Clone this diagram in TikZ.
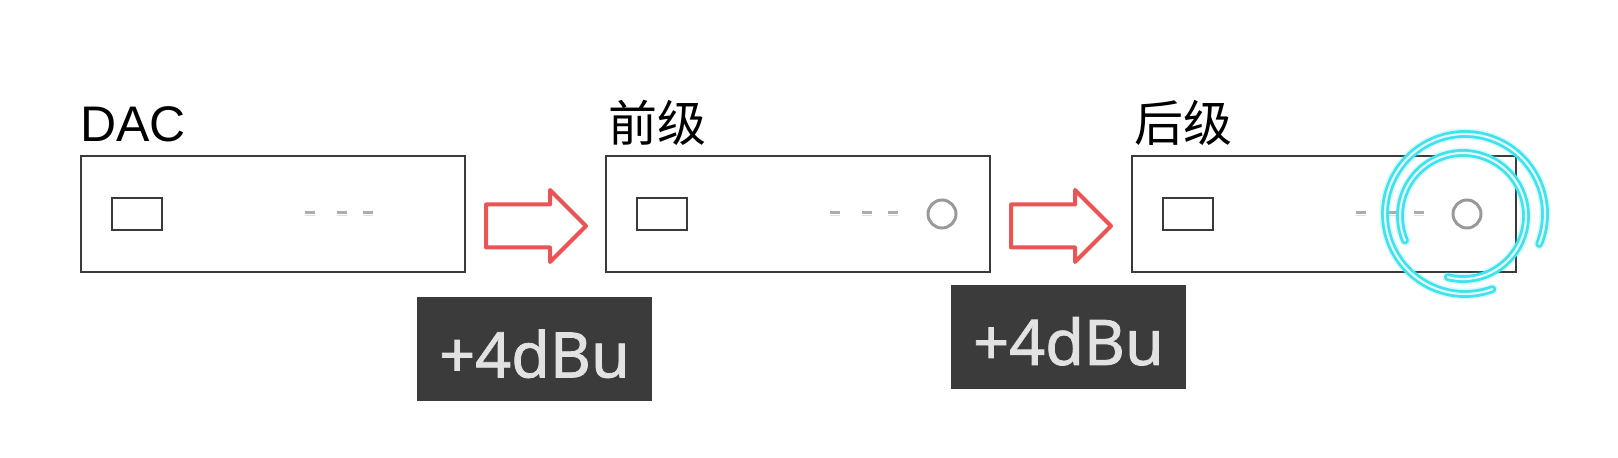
\documentclass[tikz,border=0pt]{standalone}
\usepackage{fontspec}
\setmainfont{Liberation Sans}
\newfontfamily\cjkfont{Noto Sans CJK SC}
\newfontfamily\tagfont[FakeBold=1.2]{Noto Sans}
\usetikzlibrary{positioning}
\definecolor{boxline}{HTML}{3A3A3A}
\definecolor{arrowred}{HTML}{EA5455}
\definecolor{tagbg}{HTML}{3B3B3B}
\definecolor{tagtext}{HTML}{E2E2E2}
\definecolor{glowcyan}{HTML}{3FE3EC}

\begin{document}
\begin{tikzpicture}[x=1pt, y=1pt,
    unit/.style={draw=boxline, line width=2pt, minimum width=384pt, minimum height=116pt, inner sep=0pt},
    title/.style={anchor=base west, inner sep=0pt, font=\fontsize{50}{60}\selectfont},
    display/.style={draw=boxline, line width=1.8pt, minimum width=50pt, minimum height=32pt, inner sep=0pt},
    knob/.style={circle, draw=gray!80, line width=3pt, minimum size=28pt, inner sep=0pt},
    tag/.style={fill=tagbg, text=tagtext, minimum width=235pt, minimum height=104pt, inner sep=0pt,
                text height=56pt, text depth=0pt, font=\tagfont\fontsize{63}{72}\selectfont},
    bigarrow/.style={draw=arrowred, line width=4pt, line join=round, fill=white},
    halo/.style={draw=glowcyan, opacity=0.2, line width=11pt, line cap=round},
    glow/.style={draw=glowcyan, line width=2.8pt, double=cyan!10, double distance=2.2pt, line cap=round}
                    ]
    \useasboundingbox (0,0) rectangle (1618,458);
    \node[unit] (dac) at (273,244) {};
    \node[unit, right=139pt of dac] (pre) {};
    \node[unit, right=140pt of pre] (post) {};
    \node[title] (dactitle) at ([yshift=13pt]dac.north west) {DAC};
    \node[title, font=\cjkfont\fontsize{49}{60}\selectfont] (pretitle) at ([xshift=3pt, yshift=13pt]pre.north west) {前级};
    \node[title, font=\cjkfont\fontsize{49}{60}\selectfont] (posttitle) at ([xshift=3pt, yshift=13pt]post.north west) {后级};
    \foreach \u in {dac,pre,post} {
        \node[display] (\u-display) at ([xshift=57pt]\u.west) {};
        \foreach \d in {230,262,288} {
            \fill[gray!65] ([xshift=\d pt-5pt, yshift=-0.5pt]\u.west) rectangle +(10,3);
            \fill[gray!25] ([xshift=\d pt-5pt, yshift=-2.5pt]\u.west) rectangle +(10,1.2);
        }
    }
    \node[knob] (pre-knob) at ([xshift=337pt]pre.west) {};
    \node[knob] (post-knob) at ([xshift=336pt]post.west) {};
    \foreach \a/\b in {dac/pre, pre/post}
        \draw[bigarrow] ([shift={(20,9.5)}]\a.east) -- ++(64,0) -- ++(0,14.5) -- ++(36,-36)
            -- ++(-36,-36) -- ++(0,14.5) -- ++(-64,0) -- cycle;
    \node[tag] (pregain) at (534.5,108.5) {+4dBu};
    \node[tag] (postgain) at (1068.5,121) {+4dBu};
    % glow round the knob of the power amp
    \draw[halo] ([xshift=-2pt]post-knob.center) ++(-22:80) arc[start angle=-22, end angle=290, radius=80];
    \draw[halo] ([shift={(-4,-2)}]post-knob.center) ++(-104:63) arc[start angle=-104, end angle=203, radius=63];
    \draw[glow] ([xshift=-2pt]post-knob.center) ++(-22:80) arc[start angle=-22, end angle=290, radius=80];
    \draw[glow] ([shift={(-4,-2)}]post-knob.center) ++(-104:63) arc[start angle=-104, end angle=203, radius=63];
\end{tikzpicture}
\end{document}
